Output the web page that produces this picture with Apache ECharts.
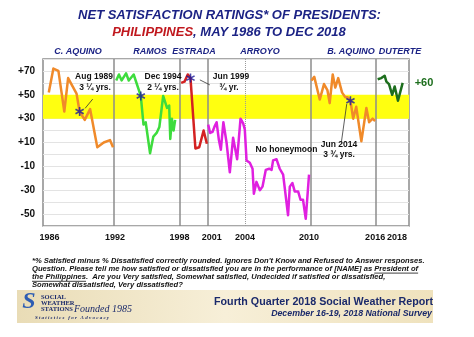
<!DOCTYPE html>
<html>
<head>
<meta charset="utf-8">
<script src="https://cdn.jsdelivr.net/npm/echarts@6/dist/echarts.min.js"></script>
<style>
html,body{margin:0;padding:0;background:#fff;}
#chart{width:474px;height:337px;}
</style>
</head>
<body>
<div id="chart"></div>
<script>
// ---------- data ----------
const xTickValues = [1986.6, 1992.6, 1998.5, 2001.45, 2004.5, 2010.35, 2016.4, 2018.4];
const xTickLabels = ['1986', '1992', '1998', '2001', '2004', '2010', '2016', '2018'];
const yTickValues = [70, 50, 30, 10, -10, -30, -50];
const yTickLabels = ['+70', '+50', '+30', '+10', '-10', '-30', '-50'];
const termBreaks = [1992.5, 1998.5, 2001.05, 2010.5, 2016.5];
const secondTermBreak = [2004.5];
const goodBand = [30, 50];

const cAquino = [[1986.53,52],[1986.95,72],[1987.41,70],[1987.95,36],[1988.3,64],[1988.71,57],[1989.07,51],[1989.35,36],[1989.82,29],[1990.31,38],[1990.97,6],[1991.56,10],[1992.13,12],[1992.41,6]];
const ramos = [[1992.7,62],[1992.95,67],[1993.2,62],[1993.6,68],[1993.85,62],[1994.3,67],[1994.95,49],[1995.2,25],[1995.4,27],[1995.8,1],[1996.1,15],[1996.4,18],[1996.65,23],[1997.0,49],[1997.35,39],[1997.55,41],[1997.65,13],[1997.8,30],[1997.95,20],[1998.1,29]];
const estrada = [[1998.65,60],[1998.95,61],[1999.25,67],[1999.5,64],[1999.95,5],[2000.3,6],[2000.7,20],[2001.0,9]];
const arroyo = [[2001.12,25],[2001.3,18],[2001.52,19],[2001.73,24],[2001.89,27],[2002.1,12],[2002.28,4],[2002.51,27],[2002.8,10],[2003.1,-15],[2003.4,14],[2003.77,-4],[2004.08,30],[2004.32,26],[2004.47,21],[2004.63,-5],[2004.93,-7],[2005.18,-12],[2005.3,-33],[2005.54,-23],[2005.85,-30],[2006.09,-27],[2006.39,-13],[2006.7,-12],[2006.92,-13],[2007.06,-5],[2007.37,-4],[2007.67,-12],[2007.98,-17],[2008.43,-51],[2008.59,-27],[2008.83,-24],[2009.04,-31],[2009.35,-31],[2009.57,-38],[2009.8,-38],[2010.05,-54],[2010.35,-17]];
const bAquino = [[2010.57,62],[2010.83,65],[2011.33,46],[2011.72,59],[2012.03,54],[2012.24,43],[2012.52,67],[2012.75,56],[2013.02,64],[2013.37,52],[2013.66,48],[2013.89,48],[2014.14,45],[2014.39,30],[2014.67,40],[2015.14,11],[2015.6,39],[2015.85,27],[2016.17,30],[2016.4,28]];
const duterte = [[2016.63,63],[2016.97,64],[2017.27,66],[2017.43,61],[2017.67,59],[2017.96,50],[2018.19,57],[2018.49,45],[2018.92,60]];
const milestones = [[1989.35,36],[1994.95,49],[1999.5,64],[2014.14,45]];

// ---------- chart ----------
const F = '"Liberation Sans", Arial, sans-serif';
const NAVY = '#1c2385';
const chart = echarts.init(document.getElementById('chart'), null, {renderer:'canvas'});
const asterisk = 'path://M-1,-6L1,-6L1,6L-1,6ZM4.696,-3.866L5.696,-2.134L-4.696,3.866L-5.696,2.134ZM5.696,2.134L4.696,3.866L-5.696,-2.134L-4.696,-3.866Z';
const measureCtx = document.createElement('canvas').getContext('2d');
function textWidth(t, font){ measureCtx.font = font; return measureCtx.measureText(t).width; }

function lineSeries(name, data, color) {
  return {name, type:'line', data, showSymbol:false, symbol:'none', silent:true,
    lineStyle:{color, width:2.5, join:'round'}, z:5};
}

const option = {
  animation:false,
  backgroundColor:'#ffffff',
  grid:{left:43, right:65, top:59, bottom:111, show:true, borderColor:'#8c8c8c', borderWidth:1.5},
  xAxis:{type:'value', min:1986, max:2019.5,
    splitLine:{show:false}, axisLine:{show:false}, axisTick:{show:false},
    axisLabel:{customValues:xTickValues, margin:7, hideOverlap:false,
      formatter:(v)=>{const i = xTickValues.indexOf(v); return i>=0 ? xTickLabels[i] : '';},
      fontFamily:F, fontWeight:'bold', fontSize:9, color:'#111'}},
  yAxis:{type:'value', min:-60, max:80, interval:10,
    splitLine:{show:true, lineStyle:{color:'#e3e3e3', width:1}},
    axisLine:{show:false}, axisTick:{show:false},
    axisLabel:{margin:8, formatter:(v)=>{const i = yTickValues.indexOf(v); return i>=0 ? yTickLabels[i] : '';},
      fontFamily:F, fontWeight:'bold', fontSize:10, color:'#111'}},
  series:[
    {type:'line', data:[], silent:true, z:2,
      markArea:{silent:true, itemStyle:{color:'#ffff10', opacity:1},
        data:[[{yAxis:goodBand[0]},{yAxis:goodBand[1]}]]},
      markLine:{silent:true, symbol:'none', label:{show:false},
        lineStyle:{color:'#8c8c8c', width:1.5, type:'solid'},
        data: termBreaks.map(x=>({xAxis:x})).concat(secondTermBreak.map(x=>({xAxis:x, lineStyle:{type:'dotted', color:'#9a9a9a', width:1}})))}},
    lineSeries('C. Aquino', cAquino, '#f08a2a'),
    lineSeries('Ramos', ramos, '#3ddc3d'),
    lineSeries('Estrada', estrada, '#d42222'),
    lineSeries('Arroyo', arroyo, '#e020e0'),
    lineSeries('B. Aquino', bAquino, '#f08a2a'),
    lineSeries('Duterte', duterte, '#1d6e1d'),
    {type:'line', data:[], silent:true, z:6,
      markLine:{silent:true, symbol:['none','arrow'], symbolSize:[0,5], label:{show:false},
        lineStyle:{color:'#333', width:0.8, type:'solid'},
        data:[
          [{coord:[1990.55,46.4]},{coord:[1989.85,38.6]}],
          [{coord:[2001.27,58.3]},{coord:[2000.36,62.5]}],
          [{coord:[2013.31,10.2]},{coord:[2013.8,42.2]}]
        ]}},
    {type:'scatter', data:milestones, symbol:asterisk, symbolSize:9, silent:true, z:8,
      itemStyle:{color:'#1a1a9a'}}
  ],
  graphic:[]
};

const g = [];
function txt(text, x, y, font, fill, align) {
  g.push({type:'text', x, y, silent:true, z:100,
    style:{text, font, fill, align:align||'center', verticalAlign:'middle'}});
}
// title
txt('NET SATISFACTION RATINGS* OF PRESIDENTS:', 229.5, 15, 'italic bold 13px '+F, NAVY);
g.push({type:'text', x:229, y:32, silent:true, z:100,
  style:{text:'{r|PHILIPPINES}{b|, MAY 1986 TO DEC 2018}', align:'center', verticalAlign:'middle',
    rich:{r:{fill:'#c0181e', font:'italic bold 13px '+F}, b:{fill:NAVY, font:'italic bold 13px '+F}}}});
// presidents
const presFont = 'italic bold 9px '+F;
txt('C. AQUINO', 78, 52, presFont, NAVY);
txt('RAMOS', 150, 52, presFont, NAVY);
txt('ESTRADA', 194, 52, presFont, NAVY);
txt('ARROYO', 260, 52, presFont, NAVY);
txt('B. AQUINO', 351, 52, presFont, NAVY);
txt('DUTERTE', 400, 52, presFont, NAVY);
// annotations
const aFont = 'bold 8.5px '+F;
txt('Aug 1989', 94, 77, aFont, '#111');
txt('3 \u00bc yrs.', 95, 88, aFont, '#111');
txt('Dec 1994', 163, 77, aFont, '#111');
txt('2 \u00bc yrs.', 163, 88, aFont, '#111');
txt('Jun 1999', 231, 77, aFont, '#111');
txt('\u00be yr.', 229, 88, aFont, '#111');
txt('No honeymoon', 286.5, 150, aFont, '#111');
txt('Jun 2014', 339, 145, aFont, '#111');
txt('3 \u00be yrs.', 339, 155, aFont, '#111');
txt('+60', 424, 83, 'bold 11px '+F, '#1d6e1d');
// footnote
const fFont = 'italic bold 7.6px '+F;
const fn1 = "*% Satisfied minus % Dissatisfied correctly rounded. Ignores Don't Know and Refused to Answer responses.";
const fn2a = 'Question. Please tell me how satisfied or dissatisfied you are in the performance of [NAME] as ';
const fn2b = 'President of';
const fn3a = 'the Philippines';
const fn3b = '.  Are you Very satisfied, Somewhat satisfied, Undecided if satisfied or dissatisfied,';
const fn4 = 'Somewhat dissatisfied, Very dissatisfied?';
txt(fn1, 32, 260.7, fFont, '#111', 'left');
txt(fn2a + fn2b, 32, 268.9, fFont, '#111', 'left');
txt(fn3a + fn3b, 32, 277.1, fFont, '#111', 'left');
txt(fn4, 32, 285.1, fFont, '#111', 'left');
const u1x = 32 + textWidth(fn2a, fFont), u1w = textWidth(fn2b, fFont);
const u2w = textWidth(fn3a, fFont);
g.push({type:'line', silent:true, z:100, shape:{x1:u1x, y1:273.1, x2:u1x+u1w, y2:273.1}, style:{stroke:'#111', lineWidth:0.8}});
g.push({type:'line', silent:true, z:100, shape:{x1:32, y1:281.3, x2:32+u2w, y2:281.3}, style:{stroke:'#111', lineWidth:0.8}});
// footer band
g.push({type:'rect', silent:true, z:90, shape:{x:17, y:290, width:416, height:33},
  style:{fill:new echarts.graphic.LinearGradient(0,0,1,0,[{offset:0,color:'#e9dcb6'},{offset:0.5,color:'#f7efd8'},{offset:1,color:'#efe2bd'}])}});
txt('S', 29, 302, 'italic bold 24px "Liberation Serif", serif', '#2d5db3');
txt('SOCIAL', 41, 297, 'bold 6.5px "Liberation Serif", serif', '#1b2a6b', 'left');
txt('WEATHER', 41, 303.3, 'bold 6.5px "Liberation Serif", serif', '#1b2a6b', 'left');
txt('STATIONS', 41, 309.6, 'bold 6.5px "Liberation Serif", serif', '#1b2a6b', 'left');
txt('Founded 1985', 103, 309, 'italic 10px "Liberation Serif", serif', '#1b2a6b');
txt('S t a t i s t i c s   f o r   A d v o c a c y', 72, 317.5, 'italic bold 5px "Liberation Serif", serif', '#1b2a6b');
txt('Fourth Quarter 2018 Social Weather Report', 433, 302.5, 'bold 10.7px '+F, '#1b2a6b', 'right');
txt('December 16-19, 2018 National Survey', 432, 313.5, 'italic bold 8.8px '+F, '#1b2a6b', 'right');
option.graphic = g;

chart.setOption(option);
</script>
</body>
</html>
